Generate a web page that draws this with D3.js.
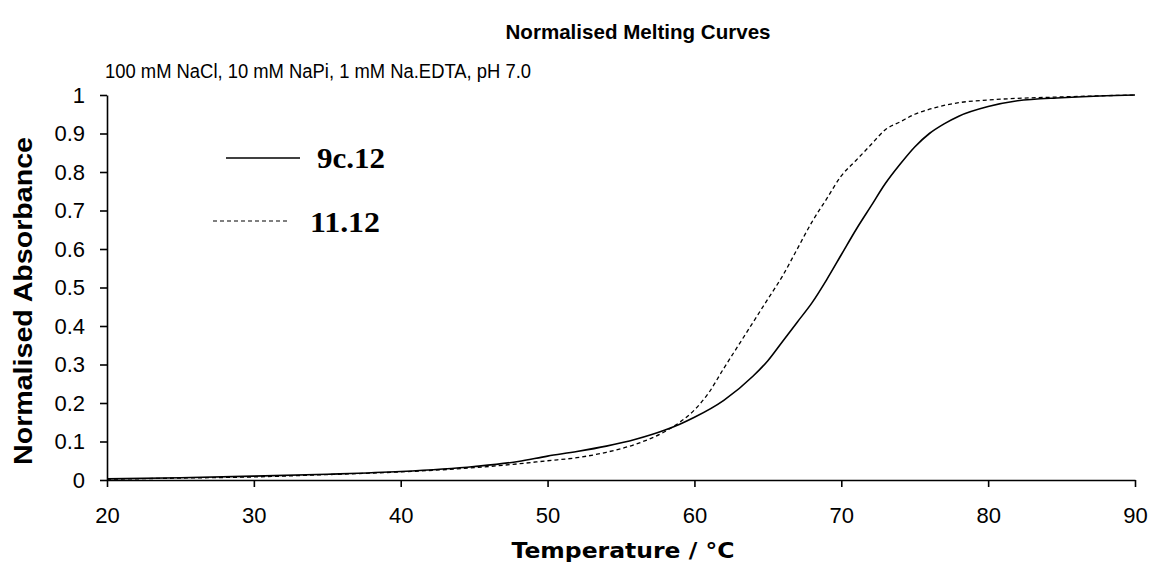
<!DOCTYPE html>
<html><head><meta charset="utf-8">
<script src="https://cdn.jsdelivr.net/npm/d3@7"></script>
<style>body{margin:0;background:#fff;} svg{display:block;}</style>
</head><body>
<svg id="chart" width="1152" height="571"></svg>
<script>
const xTicks = [20,30,40,50,60,70,80,90];
const yTicks = [0,0.1,0.2,0.3,0.4,0.5,0.6,0.7,0.8,0.9,1];
const yTickLabels = ["0","0.1","0.2","0.3","0.4","0.5","0.6","0.7","0.8","0.9","1"];

const tempSolid = [20,25,30,35,40,45,48,50,52,54,56,58,59,60,62,64,65,66,67,68,69,70,71,72,73,74,75,76,77,78,80,82,85,88,90];
const absSolid  = [0.003,0.006,0.010,0.015,0.022,0.035,0.048,0.062,0.074,0.088,0.106,0.130,0.145,0.163,0.207,0.27,0.31,0.36,0.41,0.46,0.52,0.585,0.65,0.71,0.77,0.82,0.865,0.90,0.925,0.945,0.97,0.985,0.993,0.998,1.0];

const tempDashed = [20,25,30,35,40,45,48,50,52,54,56,58,59,60,61,62,63,64,65,66,67,68,69,70,71,72,73,74,75,76,78,80,85,90];
const absDashed  = [0.002,0.005,0.008,0.014,0.021,0.032,0.042,0.050,0.058,0.072,0.093,0.126,0.150,0.182,0.228,0.29,0.35,0.41,0.47,0.53,0.60,0.67,0.73,0.79,0.83,0.87,0.91,0.93,0.95,0.963,0.98,0.987,0.995,1.0];

const seriesNames = ["9c.12","11.12"];

const svg = d3.select("#chart");
const x = d3.scaleLinear().domain([20,90]).range([107,1135]);
const y = d3.scaleLinear().domain([0,1]).range([480,95]);

const tickFont = "'Liberation Sans', Arial, sans-serif";

// axes
const gx = svg.append("g").attr("transform","translate(0,480)")
  .call(d3.axisBottom(x).tickValues(xTicks).tickSize(7).tickSizeOuter(0).tickPadding(20));
const gy = svg.append("g").attr("transform","translate(107,0)")
  .call(d3.axisLeft(y).tickValues(yTicks).tickSize(7).tickSizeOuter(0).tickPadding(15)
    .tickFormat((d,i)=>yTickLabels[i]));
[gx,gy].forEach(g=>{
  g.selectAll("path,line").attr("stroke","#000").attr("stroke-width",1.6);
  g.selectAll("text").attr("font-family",tickFont).attr("font-size",22).attr("fill","#000");
});

// lines
const line = d3.line().x(d=>x(d[0])).y(d=>y(d[1])).curve(d3.curveMonotoneX);
const solidData = tempSolid.map((t,i)=>[t,absSolid[i]]);
const dashedData = tempDashed.map((t,i)=>[t,absDashed[i]]);
svg.append("path").datum(dashedData).attr("d",line).attr("fill","none")
  .attr("stroke","#000").attr("stroke-width",1.3).attr("stroke-dasharray","4,3");
svg.append("path").datum(solidData).attr("d",line).attr("fill","none")
  .attr("stroke","#000").attr("stroke-width",1.6);

// titles
svg.append("text").attr("x",638).attr("y",39).attr("text-anchor","middle")
  .attr("font-family",tickFont).attr("font-weight","bold")
  .attr("font-size",21).attr("textLength",265).attr("lengthAdjust","spacingAndGlyphs")
  .text("Normalised Melting Curves");
svg.append("text").attr("x",105).attr("y",78)
  .attr("font-family",tickFont).attr("font-size",20)
  .attr("textLength",426).attr("lengthAdjust","spacingAndGlyphs")
  .text("100 mM NaCl, 10 mM NaPi, 1 mM Na.EDTA, pH 7.0");
svg.append("text").attr("transform","translate(32,301) rotate(-90)").attr("text-anchor","middle")
  .attr("font-family",tickFont).attr("font-weight","bold").attr("font-size",25)
  .attr("textLength",328).attr("lengthAdjust","spacingAndGlyphs")
  .text("Normalised Absorbance");
svg.append("text").attr("x",623).attr("y",558).attr("text-anchor","middle")
  .attr("font-family","'DejaVu Sans', Verdana, sans-serif").attr("font-weight","bold").attr("font-size",22)
  .attr("textLength",223).attr("lengthAdjust","spacingAndGlyphs")
  .text("Temperature / °C");

// legend
const leg = svg.append("g");
leg.append("line").attr("x1",226).attr("x2",300).attr("y1",158).attr("y2",158)
  .attr("stroke","#000").attr("stroke-width",1.6);
leg.append("line").attr("x1",213).attr("x2",288).attr("y1",221).attr("y2",221)
  .attr("stroke","#000").attr("stroke-width",1.2).attr("stroke-dasharray","4,3");
leg.append("text").attr("x",317).attr("y",168).attr("font-family","'Liberation Serif', 'Times New Roman', serif")
  .attr("font-weight","bold").attr("font-size",30).attr("textLength",68).attr("lengthAdjust","spacingAndGlyphs")
  .text(seriesNames[0]);
leg.append("text").attr("x",310).attr("y",232).attr("font-family","'Liberation Serif', 'Times New Roman', serif")
  .attr("font-weight","bold").attr("font-size",30).attr("textLength",70).attr("lengthAdjust","spacingAndGlyphs")
  .text(seriesNames[1]);
</script>
</body></html>
